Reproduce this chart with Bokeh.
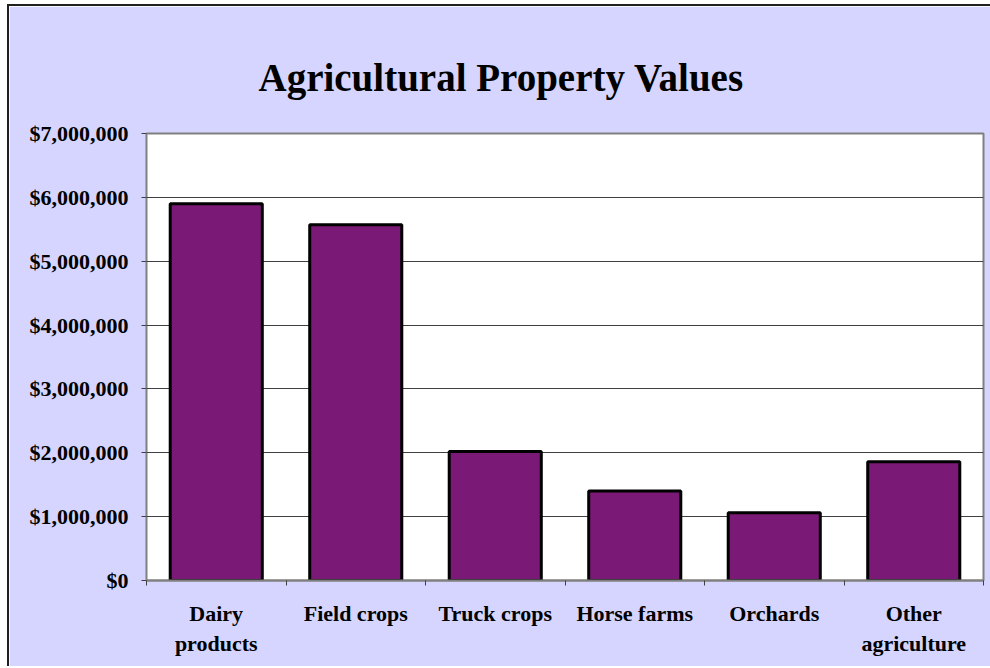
import numpy as np
from bokeh.plotting import figure
from bokeh.models import FixedTicker, NumeralTickFormatter, Range1d, ColumnDataSource
from bokeh.embed import file_html
from bokeh.resources import INLINE

categories = ["Dairy\nproducts", "Field crops", "Truck crops", "Horse farms", "Orchards", "Other\nagriculture"]
values = [5900000, 5570000, 2020000, 1400000, 1060000, 1860000]
y_ticks = [0, 1000000, 2000000, 3000000, 4000000, 5000000, 6000000, 7000000]
title_text = "Agricultural Property Values"

BG = "#D5D5FF"
BAR = "#7B1A76"
FONT = "Liberation Serif"

n = len(categories)
centers = list(np.arange(n) + 0.5)
src = ColumnDataSource(dict(x=centers, top=values, cat=categories))

p = figure(width=983, height=662, output_backend="svg", toolbar_location=None,
           x_range=Range1d(0, n), y_range=Range1d(0, y_ticks[-1]),
           min_border_left=137, min_border_right=9, min_border_top=127, min_border_bottom=88,
           styles={"margin-left": "7px", "margin-top": "4px",
                   "border-left": "2px solid #202020", "border-top": "2px solid #202020"})
p.background_fill_color = "white"
p.border_fill_color = BG
p.outline_line_color = "#808080"
p.outline_line_width = 2

p.title.text = title_text
p.title.align = "left"
p.title.offset = 112
p.title.vertical_align = "top"
p.title.text_font = FONT
p.title.text_font_style = "bold"
p.title.text_font_size = "39px"
p.title.text_color = "black"
p.title.standoff = 65

p.vbar(x="x", top="top", width=0.66, bottom=0, source=src,
       fill_color=BAR, line_color="black", line_width=3)

# y axis
p.yaxis.ticker = FixedTicker(ticks=y_ticks)
p.yaxis.formatter = NumeralTickFormatter(format="$0,0")
p.yaxis.major_tick_out = 5
p.yaxis.major_tick_in = 0
p.yaxis.minor_tick_out = 0
p.yaxis.minor_tick_in = 0
p.yaxis.axis_line_color = "#808080"
p.yaxis.major_tick_line_color = "#404040"
p.yaxis.major_label_standoff = 13
p.yaxis.major_label_text_font = FONT
p.yaxis.major_label_text_font_style = "bold"
p.yaxis.major_label_text_font_size = "22px"
p.yaxis.major_label_text_color = "black"

# x axis
p.xaxis.ticker = FixedTicker(ticks=centers, minor_ticks=list(range(n + 1)))
p.xaxis.major_label_overrides = {c: lab for c, lab in zip(centers, categories)}
p.xaxis.major_tick_out = 0
p.xaxis.major_tick_in = 0
p.xaxis.minor_tick_out = 5
p.xaxis.minor_tick_in = 0
p.xaxis.minor_tick_line_color = "#404040"
p.xaxis.axis_line_color = "#808080"
p.xaxis.axis_line_width = 2
p.xaxis.major_label_standoff = 15
p.xaxis.major_label_text_font = FONT
p.xaxis.major_label_text_font_style = "bold"
p.xaxis.major_label_text_font_size = "22px"
p.xaxis.major_label_text_color = "black"

p.xgrid.visible = False
p.ygrid.ticker = FixedTicker(ticks=y_ticks[1:-1])
p.ygrid.grid_line_color = "#404040"
p.ygrid.grid_line_width = 1

open("out.html", "w").write(file_html(p, INLINE))
